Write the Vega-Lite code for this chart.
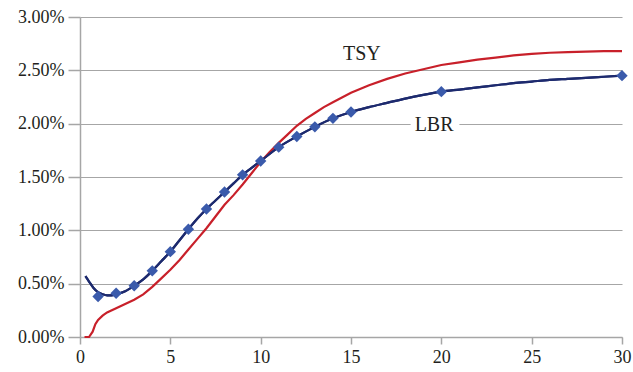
{
  "$schema": "https://vega.github.io/schema/vega-lite/v6.json",
  "width": 542,
  "height": 320,
  "autosize": {"type": "none"},
  "padding": {"left": 80, "top": 17, "right": 11, "bottom": 35},
  "background": "white",
  "config": {
    "view": {"stroke": null},
    "axis": {
      "labelColor": "#231f20",
      "domainColor": "#a6a6a6",
      "tickColor": "#a6a6a6",
      "gridColor": "#a6a6a6",
      "domainWidth": 1.5,
      "tickWidth": 1.5,
      "gridWidth": 1.2,
      "title": null
    }
  },
  "datasets": {
    "lbr": [
      {"t": 0.3, "v": 0.57}, {"t": 0.5, "v": 0.52}, {"t": 0.75, "v": 0.46}, {"t": 1, "v": 0.42},
      {"t": 1.25, "v": 0.40}, {"t": 1.5, "v": 0.39}, {"t": 1.75, "v": 0.39}, {"t": 2, "v": 0.40},
      {"t": 2.5, "v": 0.43}, {"t": 3, "v": 0.48}, {"t": 3.5, "v": 0.54}, {"t": 4, "v": 0.62},
      {"t": 4.5, "v": 0.71}, {"t": 5, "v": 0.80}, {"t": 5.5, "v": 0.905}, {"t": 6, "v": 1.01},
      {"t": 6.5, "v": 1.11}, {"t": 7, "v": 1.20}, {"t": 7.5, "v": 1.28}, {"t": 8, "v": 1.36},
      {"t": 8.5, "v": 1.44}, {"t": 9, "v": 1.52}, {"t": 9.5, "v": 1.585}, {"t": 10, "v": 1.65},
      {"t": 11, "v": 1.78}, {"t": 12, "v": 1.88}, {"t": 13, "v": 1.97}, {"t": 14, "v": 2.05},
      {"t": 15, "v": 2.11}, {"t": 16, "v": 2.155}, {"t": 17, "v": 2.195}, {"t": 18, "v": 2.235},
      {"t": 19, "v": 2.27}, {"t": 20, "v": 2.30}, {"t": 21, "v": 2.32}, {"t": 22, "v": 2.34},
      {"t": 23, "v": 2.36}, {"t": 24, "v": 2.38}, {"t": 25, "v": 2.395}, {"t": 26, "v": 2.41},
      {"t": 27, "v": 2.42}, {"t": 28, "v": 2.43}, {"t": 29, "v": 2.44}, {"t": 30, "v": 2.45}
    ],
    "markers": [
      {"t": 1, "v": 0.38}, {"t": 2, "v": 0.41}, {"t": 3, "v": 0.48}, {"t": 4, "v": 0.62},
      {"t": 5, "v": 0.80}, {"t": 6, "v": 1.01}, {"t": 7, "v": 1.20}, {"t": 8, "v": 1.36},
      {"t": 9, "v": 1.52}, {"t": 10, "v": 1.65}, {"t": 11, "v": 1.78}, {"t": 12, "v": 1.88},
      {"t": 13, "v": 1.97}, {"t": 14, "v": 2.05}, {"t": 15, "v": 2.11}, {"t": 20, "v": 2.30},
      {"t": 30, "v": 2.45}
    ],
    "tsy": [
      {"t": 0.25, "v": 0.0}, {"t": 0.5, "v": 0.0}, {"t": 0.7, "v": 0.05}, {"t": 0.85, "v": 0.12},
      {"t": 1, "v": 0.16}, {"t": 1.25, "v": 0.20},
      {"t": 1.5, "v": 0.23}, {"t": 2, "v": 0.27}, {"t": 2.5, "v": 0.31}, {"t": 3, "v": 0.35},
      {"t": 3.5, "v": 0.40}, {"t": 4, "v": 0.47}, {"t": 4.5, "v": 0.55}, {"t": 5, "v": 0.63},
      {"t": 5.5, "v": 0.72}, {"t": 6, "v": 0.82}, {"t": 6.5, "v": 0.92}, {"t": 7, "v": 1.02},
      {"t": 7.5, "v": 1.13}, {"t": 8, "v": 1.24}, {"t": 8.5, "v": 1.33}, {"t": 9, "v": 1.43},
      {"t": 9.5, "v": 1.535}, {"t": 10, "v": 1.64}, {"t": 10.5, "v": 1.735}, {"t": 11, "v": 1.82},
      {"t": 11.5, "v": 1.90}, {"t": 12, "v": 1.98}, {"t": 12.5, "v": 2.045},
      {"t": 13, "v": 2.10}, {"t": 13.5, "v": 2.155}, {"t": 14, "v": 2.20}, {"t": 14.5, "v": 2.245}, {"t": 15, "v": 2.29}, {"t": 16, "v": 2.36},
      {"t": 17, "v": 2.42}, {"t": 18, "v": 2.47}, {"t": 19, "v": 2.51}, {"t": 20, "v": 2.55},
      {"t": 21, "v": 2.575}, {"t": 22, "v": 2.60}, {"t": 23, "v": 2.62}, {"t": 24, "v": 2.64},
      {"t": 25, "v": 2.655}, {"t": 26, "v": 2.665}, {"t": 27, "v": 2.67}, {"t": 28, "v": 2.675},
      {"t": 29, "v": 2.68}, {"t": 30, "v": 2.68}
    ],
    "labels": [
      {"t": 15.6, "v": 2.65, "label": "TSY"},
      {"t": 19.6, "v": 1.99, "label": "LBR"}
    ],
    "gap": [
      {"t": 18.3, "t2": 21.0, "v": 2.0}
    ]
  },
  "layer": [
    {
      "data": {"name": "lbr"},
      "mark": {"type": "line", "color": "#1d2a6e", "strokeWidth": 2.2, "interpolate": "monotone"},
      "encoding": {
        "x": {
          "field": "t", "type": "quantitative",
          "scale": {"domain": [0, 30], "nice": false},
          "axis": {"values": [0, 5, 10, 15, 20, 25, 30], "grid": false, "tickSize": 7, "labelPadding": 4, "labelFlush": false, "labelFont": "Liberation Serif", "labelFontSize": 18}
        },
        "y": {
          "field": "v", "type": "quantitative",
          "scale": {"domain": [0, 3], "nice": false},
          "axis": {"values": [0, 0.5, 1, 1.5, 2, 2.5, 3], "labelExpr": "format(datum.value, '.2f') + '%'", "grid": true, "tickSize": 12, "labelPadding": 4, "labelFlush": false, "labelFont": "Liberation Serif", "labelFontSize": 18}
        }
      }
    },
    {
      "data": {"name": "gap"},
      "mark": {"type": "rule", "color": "white", "strokeWidth": 3},
      "encoding": {
        "x": {"field": "t", "type": "quantitative"},
        "x2": {"field": "t2"},
        "y": {"field": "v", "type": "quantitative"}
      }
    },
    {
      "data": {"name": "tsy"},
      "mark": {"type": "line", "color": "#c8202a", "strokeWidth": 2.2, "interpolate": "linear"},
      "encoding": {
        "x": {"field": "t", "type": "quantitative"},
        "y": {"field": "v", "type": "quantitative"}
      }
    },
    {
      "data": {"name": "lbr"},
      "mark": {"type": "line", "color": "#1d2a6e", "strokeWidth": 2.2, "interpolate": "monotone"},
      "encoding": {
        "x": {"field": "t", "type": "quantitative"},
        "y": {"field": "v", "type": "quantitative"}
      }
    },
    {
      "data": {"name": "markers"},
      "mark": {"type": "point", "shape": "diamond", "filled": true, "color": "#3a5aab", "size": 130, "opacity": 1},
      "encoding": {
        "x": {"field": "t", "type": "quantitative"},
        "y": {"field": "v", "type": "quantitative"}
      }
    },
    {
      "data": {"name": "labels"},
      "mark": {"type": "text", "font": "Liberation Serif", "fontSize": 20, "color": "#231f20", "align": "center", "baseline": "middle"},
      "encoding": {
        "x": {"field": "t", "type": "quantitative"},
        "y": {"field": "v", "type": "quantitative"},
        "text": {"field": "label", "type": "nominal"}
      }
    }
  ]
}
